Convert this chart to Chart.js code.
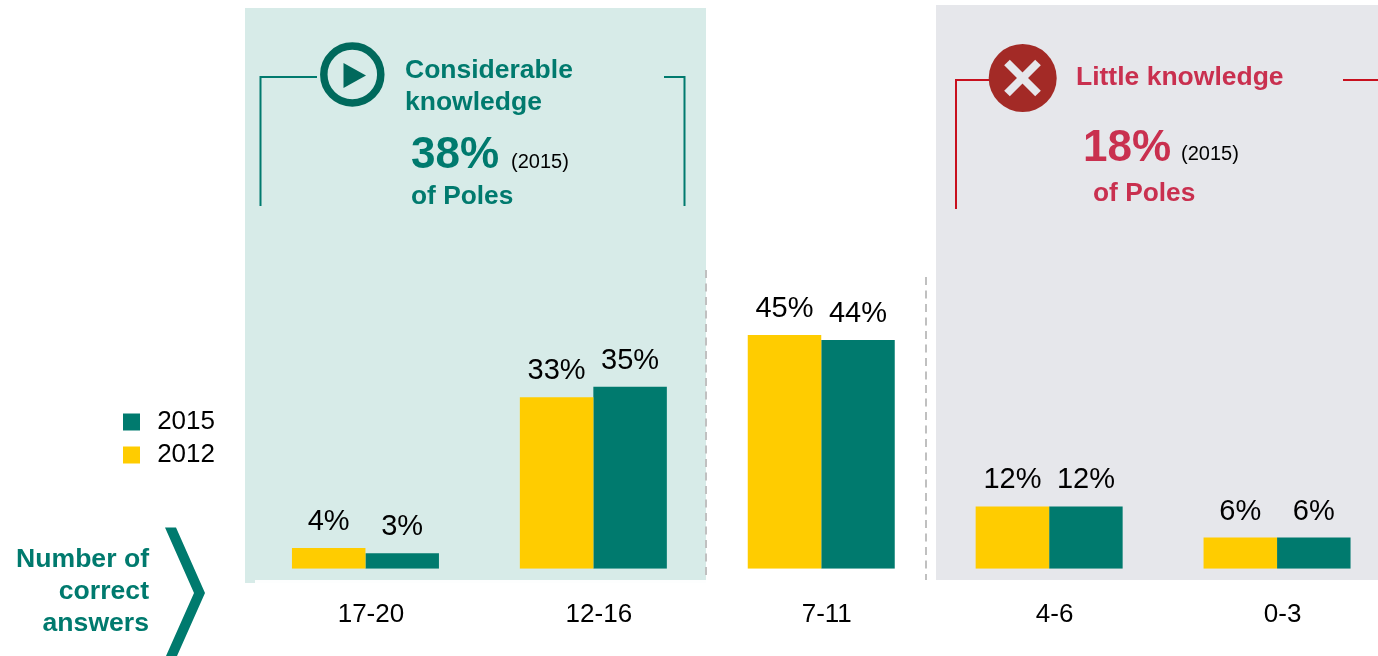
<!DOCTYPE html>
<html>
<head>
<meta charset="utf-8">
<title>Number of correct answers</title>
<script src="https://cdn.jsdelivr.net/npm/chart.js@4"></script>
<style>
  html, body { margin: 0; padding: 0; background: #fff; overflow: hidden; }
  canvas { display: block; }
</style>
</head>
<body>
<canvas id="knowledge_chart" width="1400" height="656"></canvas>
<script>
const categories = ['17-20', '12-16', '7-11', '4-6', '0-3'];
const values2012 = [4, 33, 45, 12, 6];
const values2015 = [3, 35, 44, 12, 6];

const TEAL = '#007a6e';
const YELLOW = '#ffcc00';
const RED_TEXT = '#c9304f';
const RED_LINE = '#c8101e';
const FONT = '"Liberation Sans", Arial, sans-serif';

function text(ctx, str, x, y, size, color, bold, align) {
    ctx.font = (bold ? 'bold ' : '') + size + 'px ' + FONT;
    ctx.fillStyle = color;
    ctx.textAlign = align || 'left';
    ctx.textBaseline = 'middle';
    ctx.fillText(str, x, y + 2);
}

function path(ctx, pts, color, width) {
    ctx.strokeStyle = color;
    ctx.lineWidth = width;
    ctx.beginPath();
    pts.forEach((p, i) => i ? ctx.lineTo(p[0], p[1]) : ctx.moveTo(p[0], p[1]));
    ctx.stroke();
}

// background panels and dashed separators
const panelsPlugin = {
    id: 'panels',
    beforeDraw(chart) {
        const ctx = chart.ctx;
        ctx.save();
        ctx.fillStyle = '#d7ebe8';
        ctx.fillRect(245, 8, 461, 575);
        ctx.fillStyle = '#fdfefe';
        ctx.fillRect(255, 580, 451, 3);
        ctx.fillStyle = '#e6e7eb';
        ctx.fillRect(936, 5, 442, 575);

        ctx.setLineDash([8, 5.5]);
        path(ctx, [[706, 270], [706, 580]], '#c0c0c0', 2);
        path(ctx, [[926, 277], [926, 580]], '#c0c0c0', 2);
        ctx.restore();
    }
};

// value labels, headers, icons, brackets, axis caption
const notesPlugin = {
    id: 'notes',
    afterDraw(chart) {
        const ctx = chart.ctx;
        ctx.save();

        chart.data.datasets.forEach((ds, i) => {
            chart.getDatasetMeta(i).data.forEach((bar, j) => {
                text(ctx, ds.data[j] + '%', bar.x, bar.y - 28, 29, '#000', false, 'center');
            });
        });

        // considerable knowledge
        path(ctx, [[260.5, 206], [260.5, 77], [317, 77]], TEAL, 2);
        path(ctx, [[664, 77], [684.5, 77], [684.5, 206]], TEAL, 2);
        ctx.strokeStyle = '#00695c';
        ctx.lineWidth = 7.5;
        ctx.beginPath();
        ctx.arc(352.3, 74.5, 28.5, 0, Math.PI * 2);
        ctx.stroke();
        ctx.fillStyle = '#00695c';
        ctx.beginPath();
        ctx.moveTo(343.5, 63);
        ctx.lineTo(366, 75.5);
        ctx.lineTo(343.5, 88);
        ctx.closePath();
        ctx.fill();
        text(ctx, 'Considerable', 405, 69, 26.5, TEAL, true);
        text(ctx, 'knowledge', 405, 101, 26.5, TEAL, true);
        text(ctx, '38%', 411, 154, 44, TEAL, true);
        text(ctx, '(2015)', 511, 160, 20, '#000', false);
        text(ctx, 'of Poles', 411, 195, 26.3, TEAL, true);

        // little knowledge
        path(ctx, [[956, 209], [956, 80], [989, 80]], RED_LINE, 2);
        path(ctx, [[1343, 80], [1378, 80]], RED_LINE, 2);
        ctx.fillStyle = '#a32a26';
        ctx.beginPath();
        ctx.arc(1022.7, 78, 34, 0, Math.PI * 2);
        ctx.fill();
        path(ctx, [[1007, 62.5], [1038, 93.5]], '#e6e7eb', 8);
        path(ctx, [[1038, 62.5], [1007, 93.5]], '#e6e7eb', 8);
        text(ctx, 'Little knowledge', 1076, 76, 26.5, RED_TEXT, true);
        text(ctx, '18%', 1083, 147, 44, RED_TEXT, true);
        text(ctx, '(2015)', 1181, 152, 20, '#000', false);
        text(ctx, 'of Poles', 1093, 192, 26.3, RED_TEXT, true);

        // axis caption and chevron
        text(ctx, 'Number of', 149, 558, 26.6, TEAL, true, 'right');
        text(ctx, 'correct', 149, 590, 26.6, TEAL, true, 'right');
        text(ctx, 'answers', 149, 622, 26.6, TEAL, true, 'right');
        ctx.fillStyle = TEAL;
        ctx.beginPath();
        ctx.moveTo(165, 527.5);
        ctx.lineTo(176, 527.5);
        ctx.lineTo(205, 593);
        ctx.lineTo(177, 656);
        ctx.lineTo(166, 656);
        ctx.lineTo(194, 593);
        ctx.closePath();
        ctx.fill();

        ctx.restore();
    }
};

// the legend sits left of the plot, outside the chart area
const legendPlacePlugin = {
    id: 'legendPlace',
    afterLayout(chart) {
        const lg = chart.legend;
        lg.left = 116;
        lg.right = 215;
        lg.top = 402;
        lg.bottom = 480;
    }
};

new Chart(document.getElementById('knowledge_chart'), {
    type: 'bar',
    data: {
        labels: categories,
        datasets: [
            { label: '2012', data: values2012, backgroundColor: YELLOW },
            { label: '2015', data: values2015, backgroundColor: TEAL }
        ]
    },
    options: {
        responsive: false,
        animation: false,
        layout: { padding: { left: 251.5, right: 9, top: 49, bottom: -4 } },
        datasets: { bar: { barPercentage: 1, categoryPercentage: 0.645 } },
        scales: {
            x: {
                grid: { display: false, drawTicks: false },
                border: { display: false },
                ticks: {
                    color: '#000',
                    padding: 30,
                    labelOffset: 5.5,
                    maxRotation: 0,
                    autoSkip: false,
                    font: { family: FONT, size: 26, lineHeight: 1.2 }
                }
            },
            y: { display: false, min: 0, max: 100 }
        },
        plugins: {
            tooltip: { enabled: false },
            title: { display: false },
            legend: {
                position: 'chartArea',
                align: 'start',
                reverse: true,
                labels: {
                    boxWidth: 17,
                    boxHeight: 17,
                    padding: 7,
                    color: '#000',
                    textAlign: 'right',
                    font: { family: FONT, size: 26 }
                }
            }
        }
    },
    plugins: [panelsPlugin, notesPlugin, legendPlacePlugin]
});
</script>
</body>
</html>
